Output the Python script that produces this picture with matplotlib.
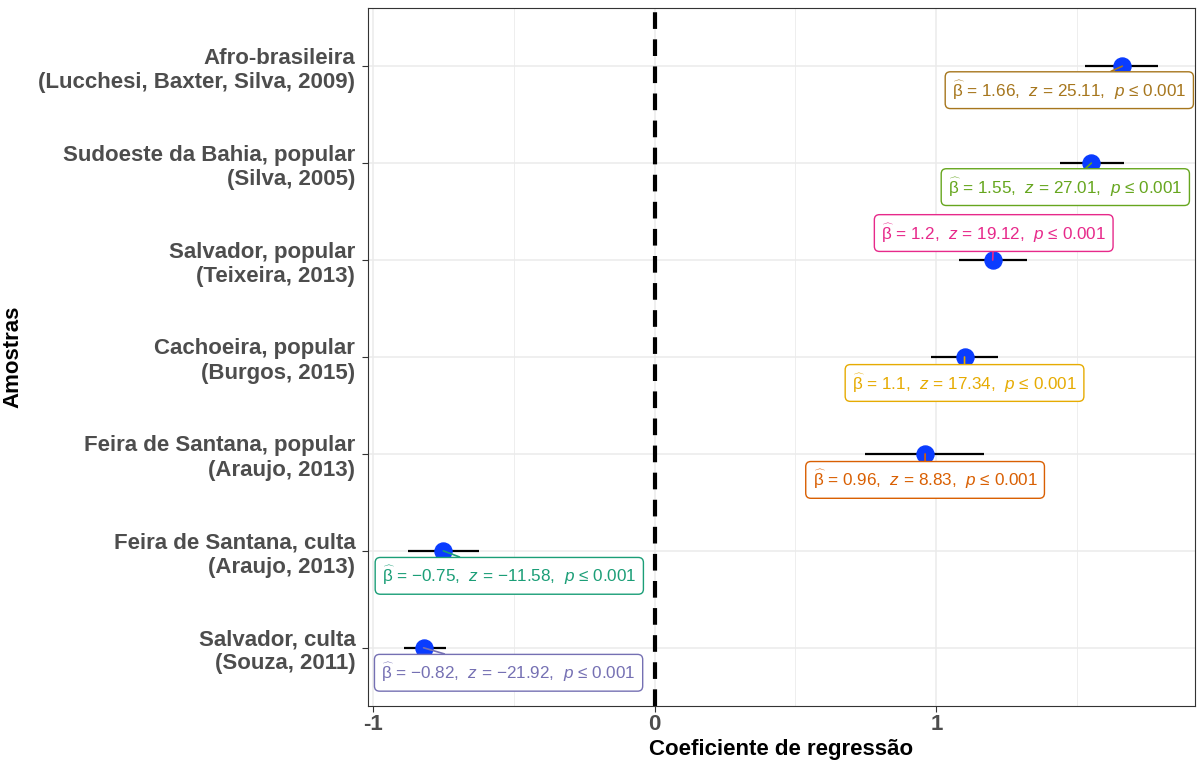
import matplotlib
matplotlib.use("Agg")
import matplotlib.pyplot as plt

plt.rcParams['font.family'] = ['Liberation Sans', 'DejaVu Sans']
plt.rcParams['mathtext.fontset'] = 'custom'
plt.rcParams['mathtext.rm'] = 'Liberation Sans'
plt.rcParams['mathtext.it'] = 'Liberation Sans:italic'

# bottom to top
samples = ["Salvador, culta\n(Souza, 2011)",
           "Feira de Santana, culta\n(Araujo, 2013)",
           "Feira de Santana, popular\n(Araujo, 2013)",
           "Cachoeira, popular\n(Burgos, 2015)",
           "Salvador, popular\n(Teixeira, 2013)",
           "Sudoeste da Bahia, popular\n(Silva, 2005)",
           "Afro-brasileira\n(Lucchesi, Baxter, Silva, 2009)"]
beta = [-0.82, -0.75, 0.96, 1.1, 1.2, 1.55, 1.66]
beta_txt = ["-0.82", "-0.75", "0.96", "1.1", "1.2", "1.55", "1.66"]
z_txt = ["-21.92", "-11.58", "8.83", "17.34", "19.12", "27.01", "25.11"]
ci_low = [-0.888, -0.877, 0.746, 0.98, 1.08, 1.439, 1.527]
ci_high = [-0.742, -0.622, 1.169, 1.22, 1.32, 1.666, 1.787]
colors = ["#7570B3", "#1B9E77", "#D95F02", "#E6AB02", "#E7298A", "#66A61E", "#A6761D"]
# label offsets (pixels) from the point, as placed by repel
offsets = [(85, -25), (66, -25), (0, -26), (0, -26), (1, 27), (-26, -24), (-53, -24)]

fig = plt.figure(figsize=(11.98, 7.64), dpi=100)
ax = fig.add_axes([0.307, 0.076, 0.6905, 0.9135])

ypos = list(range(1, len(samples) + 1))

ax.set_xlim(-1.018, 1.918)
ax.set_ylim(0.4, 7.6)
ax.set_xticks([-1, 0, 1])
ax.set_xticklabels(["-1", "0", "1"])
ax.set_xticks([-0.5, 0.5, 1.5], minor=True)
ax.set_yticks(ypos)
ax.set_yticklabels(samples, ha='right')
ax.grid(True, which='major', color='#EBEBEB', lw=1.1, zorder=0)
ax.grid(True, which='minor', axis='x', color='#EBEBEB', lw=0.6, zorder=0)
ax.set_axisbelow(True)
for s in ax.spines.values():
    s.set_color('#333333')
    s.set_linewidth(0.8)
ax.tick_params(which='major', length=4, color='#333333', labelsize=16, labelcolor='#4D4D4D')
ax.tick_params(axis='y', pad=5)
ax.tick_params(axis='x', pad=2)
ax.tick_params(which='minor', length=0)
for lab in ax.get_xticklabels() + ax.get_yticklabels():
    lab.set_fontweight('bold')

ax.axvline(0, color='black', lw=3, ls=(0, (4, 2.5)), zorder=2)

ax.hlines(ypos, ci_low, ci_high, color='black', lw=1.6, zorder=3)
ax.scatter(beta, ypos, s=150, color='#0A3CFF', zorder=4)

for i in range(len(samples)):
    lab = (r"$\widehat{\mathrm{\beta}}$" + " = " + beta_txt[i].replace("-", "\u2212") +
           r",  $z$ = " + z_txt[i].replace("-", "\u2212") + ",  $p$ \u2264 0.001")
    ax.annotate(lab, xy=(beta[i], ypos[i]), xytext=offsets[i], textcoords='offset pixels',
                ha='center', va='center', fontsize=12.3, color=colors[i],
                bbox=dict(boxstyle='round,pad=0.4,rounding_size=0.3', fc='white', ec=colors[i], lw=1),
                arrowprops=dict(arrowstyle='-', color=colors[i], lw=1.2, shrinkA=0, shrinkB=0),
                zorder=5)

ax.set_xlabel("Coeficiente de regressão", fontsize=16, fontweight='bold')
ax.xaxis.set_label_coords(0.5, -0.048)
ax.set_ylabel("Amostras", fontsize=16, fontweight='bold')
ax.yaxis.set_label_coords(-0.416, 0.5)

fig.savefig("out.png", dpi=100)
